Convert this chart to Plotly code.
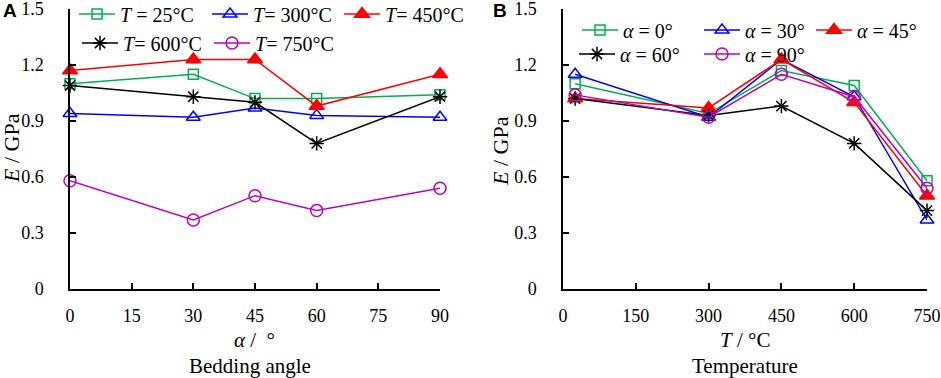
import plotly.graph_objects as go

# ---------------- data ----------------
bedding_angle = [0, 30, 45, 60, 90]
E_T25 = [1.10, 1.15, 1.02, 1.02, 1.04]
E_T300 = [0.94, 0.92, 0.97, 0.93, 0.92]
E_T450 = [1.17, 1.23, 1.23, 0.98, 1.15]
E_T600 = [1.09, 1.03, 1.00, 0.78, 1.03]
E_T750 = [0.58, 0.37, 0.50, 0.42, 0.54]

temperature = [25, 300, 450, 600, 750]
E_a0 = [1.10, 0.94, 1.17, 1.09, 0.58]
E_a30 = [1.15, 0.92, 1.23, 1.03, 0.37]
E_a45 = [1.02, 0.97, 1.23, 1.00, 0.50]
E_a60 = [1.02, 0.93, 0.98, 0.78, 0.42]
E_a90 = [1.04, 0.92, 1.15, 1.03, 0.54]

names_A = ["<i>T</i> = 25°C", "<i>T</i>= 300°C", "<i>T</i>= 450°C", "<i>T</i>= 600°C", "<i>T</i>= 750°C"]
names_B = ["<i>α</i> = 0°", "<i>α</i> = 30°", "<i>α</i> = 45°", "<i>α</i> = 60°", "<i>α</i> = 90°"]

x_ticks_A = [0, 15, 30, 45, 60, 75, 90]
x_ticks_B = [0, 150, 300, 450, 600, 750]
y_ticks = [0, 0.3, 0.6, 0.9, 1.2, 1.5]
y_ticktext = ["0", "0.3", "0.6", "0.9", "1.2", "1.5"]

# ---------------- styles ----------------
GREEN = "#00B050"
BLUE = "#0000FF"
RED = "#FF0000"
BLACK = "#000000"
MAGENTA = "#C000C0"

styles = [
    dict(color=GREEN, symbol="square-open", size=10),
    dict(color=BLUE, symbol="triangle-up-open", size=12),
    dict(color=RED, symbol="triangle-up", size=13),
    dict(color=BLACK, symbol="asterisk-open", size=12),
    dict(color=MAGENTA, symbol="circle-open", size=12),
]

W, H = 941, 378
def px_x(p):
    return p / W
def px_y(p):
    return 1 - p / H

SERIF = "Liberation Serif, Times New Roman, serif"
TICKFONT = dict(family=SERIF, size=18, color="black")
LEGFONT = dict(family=SERIF, size=20, color="black")

# legend text start positions (px) and row centres (px)
leg_pos_A = [(121, 14), (254, 14), (386, 14), (124, 43), (256, 43)]
leg_pos_B = [(624, 30), (746, 30), (858, 30), (621, 54), (746, 54)]
TEXT_OFFSET = 47

fig = go.Figure()
legend_layout = {}
k = 0

def add_series(xs, ys, nm, st, xa, ya, pos):
    global k
    k += 1
    lname = "legend" if k == 1 else f"legend{k}"
    fig.add_trace(go.Scatter(
        x=xs, y=ys, name=nm, mode="lines+markers",
        xaxis=xa, yaxis=ya, legend=lname, cliponaxis=False,
        line=dict(color=st["color"], width=1.5),
        marker=dict(symbol=st["symbol"], size=st["size"], color=st["color"],
                    line=dict(color=st["color"], width=1.5)),
    ))
    legend_layout[lname] = dict(
        x=px_x(pos[0] - TEXT_OFFSET), y=px_y(pos[1]), xanchor="left", yanchor="middle",
        orientation="v", bgcolor="rgba(0,0,0,0)", font=LEGFONT, itemwidth=36,
        itemclick=False, itemdoubleclick=False)

for ys, nm, st, pos in zip([E_T25, E_T300, E_T450, E_T600, E_T750], names_A, styles, leg_pos_A):
    add_series(bedding_angle, ys, nm, st, "x", "y", pos)
for ys, nm, st, pos in zip([E_a0, E_a30, E_a45, E_a60, E_a90], names_B, styles, leg_pos_B):
    add_series(temperature, ys, nm, st, "x2", "y2", pos)

ydom = [px_y(289), px_y(9)]
common_x = dict(showline=True, linecolor="black", linewidth=1.5, ticks="inside",
                ticklen=6, tickwidth=1.5, tickcolor="black", showgrid=False,
                zeroline=False, tickfont=TICKFONT, ticklabelstandoff=10, automargin=False,
                ticklabeloverflow="allow")
common_y = dict(showline=True, linecolor="black", linewidth=1.5, ticks="inside",
                ticklen=6, tickwidth=1.5, tickcolor="black", showgrid=False,
                zeroline=False, tickfont=TICKFONT, range=[0, 1.5],
                tickvals=y_ticks, ticktext=y_ticktext, ticklabelstandoff=21, automargin=False,
                ticklabeloverflow="allow")

fig.update_layout(
    width=W, height=H,
    margin=dict(l=0, r=0, t=0, b=0, autoexpand=False),
    font=dict(family=SERIF, color="black"),
    paper_bgcolor="white", plot_bgcolor="white",
    xaxis=dict(domain=[px_x(70), px_x(440)], range=[0, 90], tickvals=x_ticks_A,
               anchor="y", **common_x),
    yaxis=dict(domain=ydom, anchor="x", **common_y),
    xaxis2=dict(domain=[px_x(563), px_x(927)], range=[0, 750], tickvals=x_ticks_B,
                anchor="y2", **common_x),
    yaxis2=dict(domain=ydom, anchor="x2", **common_y),
    showlegend=True,
    **legend_layout,
)

ann_font = dict(family=SERIF, size=21, color="black")
annotations = [
    dict(text="<b>A</b>", x=px_x(1), y=px_y(10), xanchor="left", yanchor="middle",
         font=dict(family="Liberation Sans", size=19, color="black")),
    dict(text="<b>B</b>", x=px_x(491), y=px_y(11), xanchor="left", yanchor="middle",
         font=dict(family="Liberation Sans", size=19, color="black")),
    dict(text="<i>α</i> /  °", x=px_x(255), y=px_y(340), xanchor="center", yanchor="middle", font=ann_font),
    dict(text="Bedding angle", x=px_x(250), y=px_y(366), xanchor="center", yanchor="middle", font=ann_font),
    dict(text="<i>T</i> / °C", x=px_x(745), y=px_y(340), xanchor="center", yanchor="middle", font=ann_font),
    dict(text="Temperature", x=px_x(745), y=px_y(366), xanchor="center", yanchor="middle", font=ann_font),
    dict(text="<i>E</i> / GPa", x=px_x(11), y=px_y(148), xanchor="center", yanchor="middle",
         textangle=-90, font=dict(family=SERIF, size=22, color="black")),
    dict(text="<i>E</i> / GPa", x=px_x(500), y=px_y(151), xanchor="center", yanchor="middle",
         textangle=-90, font=dict(family=SERIF, size=22, color="black")),
]
for a in annotations:
    a.update(xref="paper", yref="paper", showarrow=False)
fig.update_layout(annotations=annotations)

fig.write_html("out.html", config={"displayModeBar": False},
               post_script="document.body.style.margin='0';")
